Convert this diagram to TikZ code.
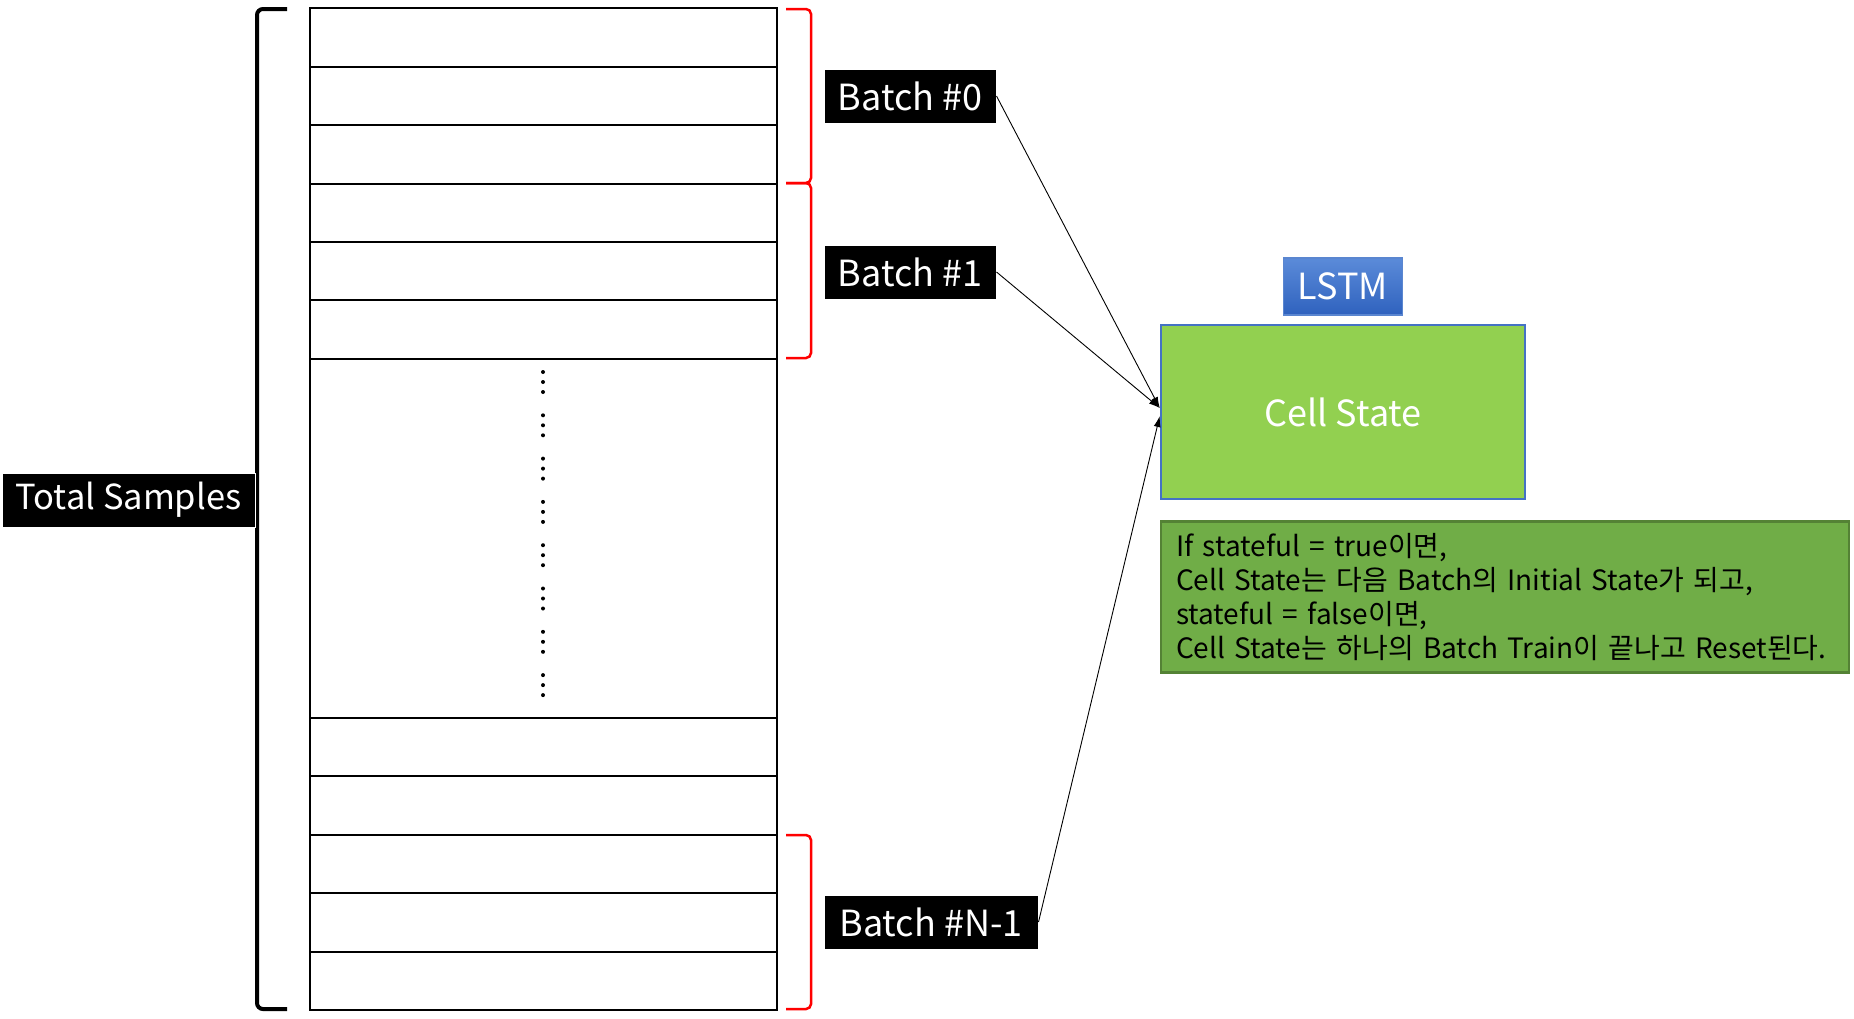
\documentclass[tikz,border=0pt]{standalone}
\usepackage{fontspec}
\setmainfont{Noto Sans CJK KR}
\usetikzlibrary{calc, positioning, arrows.meta}

\definecolor{cellgreen}{HTML}{92D050}
\definecolor{notegreen}{HTML}{70AD47}
\definecolor{noteedge}{HTML}{548235}
\definecolor{celledge}{HTML}{4472C4}
\definecolor{lstmtop}{HTML}{5B8BD9}
\definecolor{lstmbot}{HTML}{2F62BE}
\definecolor{lstmedge}{HTML}{5A86D0}

\tikzset{
  label-box/.style={fill=black, text=white, draw=white, line width=1pt, inner sep=0,
    minimum height=54, font=\fontsize{36}{40}\selectfont},
  batch-bracket/.style={draw=red, line width=2.5pt, rounded corners=5},
  row-line/.style={line width=2pt},
  feed/.style={-{Latex[length=11pt, width=7pt]}, line width=0.9pt},
}

\begin{document}
\begin{tikzpicture}[x=1pt, y=-1pt]

  \useasboundingbox (0,0) rectangle (1854,1018);

  \coordinate (stack-nw) at (310,  8.3);
  \coordinate (stack-se) at (777, 1010);

  % draw sample rows
  \draw[row-line] (stack-nw) rectangle (stack-se);
  \foreach \k in {1,...,6}
    \draw[row-line] (310, {8.3 + 58.4*\k}) to (777, {8.3 + 58.4*\k});
  \foreach \k in {1,...,5}
    \draw[row-line] (310, {1010 - 58.4*\k}) to (777, {1010 - 58.4*\k});

  % skipped rows
  \foreach \g in {0,...,7}
    \foreach \d in {-10, 0, 10}
      \fill (543, {382 + 43.3*\g + \d}) circle[radius=2];

  % total bracket
  \draw[line width=4pt, rounded corners=6] (287, 9) to (257, 9) to (257, 1009) to (287, 1009);

  % batch brackets
  \draw[batch-bracket] (786,   9) to (811,   9) to (811,  183) to (786,  183);
  \draw[batch-bracket] (786, 183) to (811, 183) to (811,  358) to (786,  358);
  \draw[batch-bracket] (786, 835) to (811, 835) to (811, 1009) to (786, 1009);

  % labels
  \node[label-box, minimum width=253, font=\fontsize{34.5}{40}\selectfont] (total) at (128.5, 500) {Total Samples};
  \node[label-box, minimum width=172] (batch-0)    at (910,  96) {Batch \#0};
  \node[label-box, minimum width=172] (batch-1)    at (910, 272) {Batch \#1};
  \node[label-box, minimum width=214] (batch-last) at (931, 922) {Batch \#N-1};

  % lstm cell
  \node[draw=celledge, line width=2.5pt, fill=cellgreen, text=white,
        minimum width=364, minimum height=174, font=\fontsize{36}{40}\selectfont] (cell) at (1343, 412) {Cell State};
  \node[above=8pt of cell, top color=lstmtop, bottom color=lstmbot, draw=lstmedge, line width=1.5pt,
        minimum width=119, minimum height=57, text=white, font=\fontsize{36}{40}\selectfont] (lstm) {LSTM};

  \node[anchor=north west, fill=notegreen, draw=noteedge, line width=2.5pt, inner xsep=15,
        text width=658, minimum height=151, align=left, font=\fontsize{28}{34}\selectfont]
        (note) at ($(cell.south west) + (0, 20)$)
        {If stateful = true이면,\\
         Cell State는 다음 Batch의 Initial State가 되고,\\
         stateful = false이면,\\
         Cell State는 하나의 Batch Train이 끝나고 Reset된다.};

  % batches into the cell
  \coordinate (cell-in-upper) at ($(cell.west) + (0, -4)$);
  \coordinate (cell-in-lower) at ($(cell.west) + (0,  4)$);
  \draw[feed] (batch-0.east)    to (cell-in-upper);
  \draw[feed] (batch-1.east)    to (cell-in-upper);
  \draw[feed] (batch-last.east) to (cell-in-lower);

\end{tikzpicture}
\end{document}
